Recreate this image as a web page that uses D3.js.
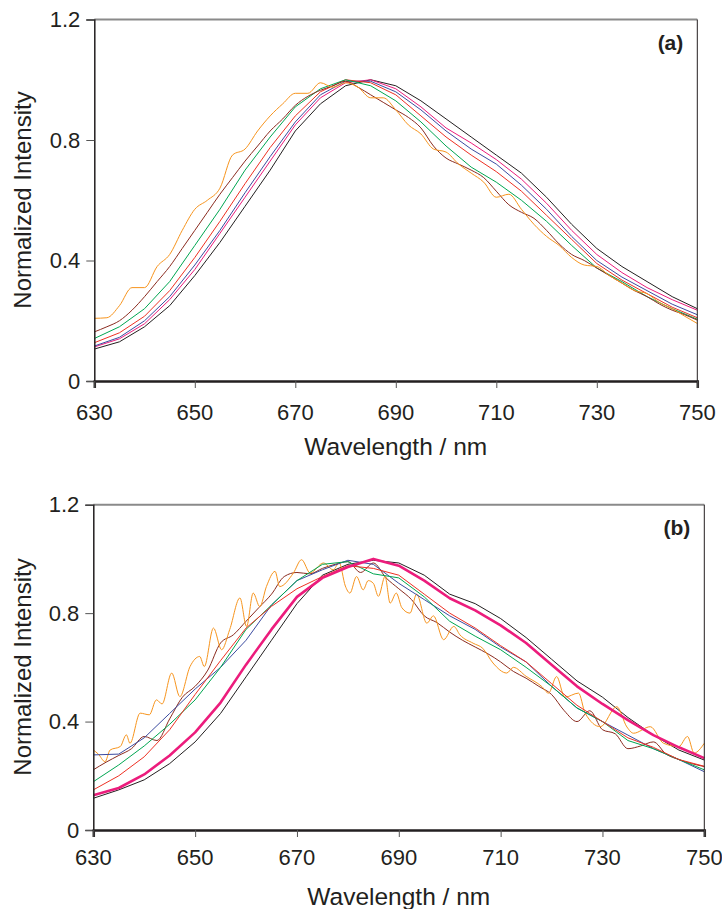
<!DOCTYPE html>
<html><head><meta charset="utf-8">
<script src="https://cdn.jsdelivr.net/npm/d3@7"></script>
<style>
body{margin:0;background:#fff}
svg{display:block}
text{font-family:"Liberation Sans",Arial,Helvetica,sans-serif;fill:#231f20}
</style>
</head><body>
<svg id="c" width="722" height="909"></svg>
<script>
// ---------- shared categories / ticks ----------
const wl5 = [630,635,640,645,650,655,660,665,670,675,680,685,690,695,700,705,710,715,720,725,730,735,740,745,750];
const wl25 = [630,632.5,635,637.5,640,642.5,645,647.5,650,652.5,655,657.5,660,662.5,665,667.5,670,672.5,675,677.5,680,682.5,685,687.5,690,692.5,695,697.5,700,702.5,705,707.5,710,712.5,715,717.5,720,722.5,725,727.5,730,732.5,735,737.5,740,742.5,745,747.5,750];
const xTicks = [630,650,670,690,710,730,750];
const yTicks = [0,0.4,0.8,1.2];

// ---------- panel (a) ----------
const aBlack = [.106,.13,.18,.25,.35,.46,.58,.70,.83,.92,.98,1.0,.98,.93,.87,.81,.75,.69,.61,.52,.44,.38,.33,.28,.24];
const aPink  = [.113,.14,.19,.27,.37,.49,.61,.73,.85,.94,.99,1.0,.97,.91,.84,.79,.735,.67,.59,.50,.42,.36,.31,.27,.235];
const aBlue  = [.116,.145,.20,.28,.385,.50,.625,.745,.86,.95,.995,.995,.96,.90,.83,.77,.72,.65,.57,.48,.40,.345,.30,.255,.22];
const aRed   = [.127,.16,.215,.30,.41,.53,.655,.775,.88,.96,1.0,.99,.95,.88,.81,.75,.695,.63,.55,.47,.39,.335,.29,.245,.21];
const aGreen = [.141,.18,.24,.33,.45,.57,.70,.81,.91,.97,1.0,.98,.93,.86,.78,.71,.66,.60,.53,.45,.375,.33,.28,.24,.205];
const aBrown = [.163,.18,.20,.235,.28,.33,.38,.44,.50,.56,.62,.675,.73,.78,.83,.87,.915,.945,.965,.98,.995,.975,.95,.925,.90,.875,.84,.78,.74,.72,.70,.675,.63,.585,.56,.54,.50,.455,.42,.40,.375,.35,.325,.30,.28,.255,.235,.22,.202];
const aOrange= [.208,.21,.25,.31,.31,.38,.42,.50,.57,.60,.64,.75,.77,.83,.88,.92,.955,.955,.99,.975,.99,.975,.94,.94,.90,.85,.82,.77,.76,.72,.69,.66,.61,.62,.57,.52,.48,.45,.41,.385,.38,.35,.325,.30,.29,.26,.24,.215,.191];

// ---------- panel (b) ----------
const bBlack = [.117,.148,.185,.245,.325,.43,.565,.70,.835,.94,.98,.995,.985,.94,.87,.835,.78,.71,.63,.55,.49,.415,.35,.295,.258];
const bPink  = [.128,.155,.205,.275,.36,.47,.61,.74,.86,.93,.97,1.0,.975,.92,.855,.81,.755,.69,.61,.53,.465,.405,.35,.305,.265];
const bRed   = [.148,.20,.27,.37,.50,.625,.745,.825,.89,.935,.975,.965,.94,.87,.80,.745,.68,.62,.54,.46,.40,.34,.305,.26,.235];
const bBlue  = [.277,.28,.34,.43,.52,.60,.70,.83,.92,.96,.995,.98,.91,.85,.79,.74,.675,.62,.53,.45,.40,.35,.30,.26,.215];
const bGreen = [.178,.24,.31,.39,.48,.60,.74,.83,.92,.98,.99,.945,.93,.86,.77,.715,.665,.60,.53,.45,.40,.33,.30,.26,.222];
const bBrown = [.222,.25,.275,.30,.345,.33,.41,.49,.53,.59,.69,.72,.77,.82,.87,.935,.95,.945,.965,.98,.99,.95,.985,.93,.89,.85,.79,.765,.73,.70,.675,.65,.62,.585,.56,.53,.50,.44,.40,.44,.37,.355,.30,.31,.325,.28,.26,.245,.234];
const bOrangeWl = [630,631,632.3,633.3,635.3,636.5,637.2,639.2,641,642.4,643.5,645.4,647,649,650.9,651.8,653.6,655.2,656.8,658.8,660.1,661.4,662.7,664,665.7,666.6,669.3,670.9,672.6,675.2,677.1,678.3,679.5,680.4,681.7,683,684,685,686,687.3,688.3,689.5,690.6,692.2,693.5,695.5,696.8,698.8,700.8,702,704.6,706.5,708.5,711.2,712.5,715,718.1,719.4,721,722.6,725.3,726.6,729.6,732.8,734.8,736.1,739.4,742,745,746.7,748,750];
const bOrange = [.295,.28,.252,.295,.308,.351,.32,.431,.425,.48,.465,.579,.492,.603,.64,.603,.745,.665,.74,.856,.751,.874,.824,.898,.954,.898,.948,.997,.948,.985,.96,.985,.90,.874,.935,.886,.92,.91,.862,.935,.837,.874,.82,.80,.87,.763,.79,.702,.751,.72,.689,.67,.616,.579,.60,.567,.529,.505,.566,.49,.505,.431,.381,.455,.38,.357,.381,.32,.308,.345,.284,.32];

const COL = {black:"#231f20", pink:"#ec1c7c", blue:"#3b4ba0", red:"#ee3124", green:"#00a651", brown:"#8b2b1f", orange:"#f7941d"};

const panels = [
  {label:"(a)", left:94.3, right:697.3, top:19.5, bottom:381, tickY:412, titleY:446, ytitleY:200,
   series:[
     {wl:wl5, v:aBlack, c:COL.black, w:1},
     {wl:wl5, v:aPink, c:COL.pink, w:1},
     {wl:wl5, v:aBlue, c:COL.blue, w:1},
     {wl:wl5, v:aRed, c:COL.red, w:1},
     {wl:wl5, v:aGreen, c:COL.green, w:1},
     {wl:wl25, v:aBrown, c:COL.brown, w:1, smooth:true},
     {wl:wl25, v:aOrange, c:COL.orange, w:1, smooth:true}
   ]},
  {label:"(b)", left:93.3, right:704.3, top:504.7, bottom:830, tickY:857, titleY:896, ytitleY:667,
   series:[
     {wl:wl5, v:bBlack, c:COL.black, w:1},
     {wl:wl25, v:bBrown, c:COL.brown, w:1, smooth:true},
     {wl:bOrangeWl, v:bOrange, c:COL.orange, w:1, smooth:true},
     {wl:wl5, v:bBlue, c:COL.blue, w:1},
     {wl:wl5, v:bGreen, c:COL.green, w:1},
     {wl:wl5, v:bRed, c:COL.red, w:1},
     {wl:wl5, v:bPink, c:COL.pink, w:2.6}
   ]}
];

const svg = d3.select("#c");

panels.forEach(p => {
  const x = d3.scaleLinear().domain([630,750]).range([p.left,p.right]);
  const y = d3.scaleLinear().domain([0,1.2]).range([p.bottom,p.top]);
  const g = svg.append("g");

  // series
  p.series.forEach(s => {
    const line = d3.line().x((d,i)=>x(s.wl[i])).y(d=>y(d))
      .curve(s.smooth ? d3.curveMonotoneX : d3.curveLinear);
    g.append("path")
      .datum(s.v)
      .attr("fill","none")
      .attr("stroke",s.c)
      .attr("stroke-width",s.w)
      .attr("stroke-linejoin","round")
      .attr("d", line);
  });

  // frame
  g.append("line").attr("x1",p.left).attr("x2",p.right).attr("y1",p.top).attr("y2",p.top)
    .attr("stroke","#8a8a8a").attr("stroke-width",2);
  g.append("line").attr("x1",p.right).attr("x2",p.right).attr("y1",p.top).attr("y2",p.bottom)
    .attr("stroke","#231f20").attr("stroke-width",1);

  // y axis
  const ya = d3.axisLeft(y).tickValues(yTicks).tickSize(8).tickPadding(6)
    .tickFormat(d => d===0 ? "0" : d3.format(".1f")(d));
  const yg = g.append("g").attr("transform",`translate(${p.left},0)`).call(ya);
  yg.select(".domain").attr("stroke","#231f20").attr("stroke-width",1.5);
  yg.selectAll(".tick line").attr("stroke","#555");
  yg.selectAll(".tick text").attr("font-size",22).attr("fill","#231f20");

  // x axis
  const xa = d3.axisBottom(x).tickValues(xTicks).tickSize(7).tickPadding(4).tickFormat(d3.format("d"));
  const xg = g.append("g").attr("transform",`translate(0,${p.bottom})`).call(xa);
  xg.select(".domain").attr("stroke","#231f20").attr("stroke-width",2.5);
  xg.selectAll(".tick line").attr("stroke","#555");
  xg.selectAll(".tick text").remove();
  xTicks.forEach(t => {
    g.append("text").attr("x",x(t)).attr("y",p.tickY).attr("text-anchor","middle")
      .attr("dominant-baseline","central").attr("font-size",22).text(t);
  });

  // titles
  g.append("text").attr("x",(p.left+p.right)/2).attr("y",p.titleY).attr("text-anchor","middle")
    .attr("dominant-baseline","central").attr("font-size",24.5).text("Wavelength / nm");
  g.append("text").attr("transform",`translate(22,${p.ytitleY}) rotate(-90)`).attr("text-anchor","middle")
    .attr("dominant-baseline","central").attr("font-size",24).text("Normalized Intensity");
  g.append("text").attr("x",p.right-14).attr("y",p.top+23).attr("text-anchor","end")
    .attr("dominant-baseline","central").attr("font-size",21).attr("font-weight","bold").text(p.label);
});
</script>
</body></html>
